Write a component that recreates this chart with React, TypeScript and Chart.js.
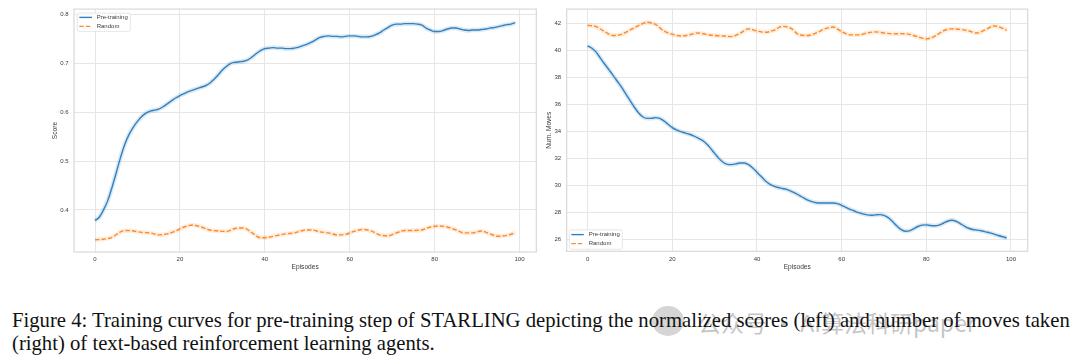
import React, { useEffect, useRef } from "react";
import { Chart, registerables } from "chart.js";

Chart.register(...registerables);

// ---------- DATA ----------
const SERIES_LABELS = ["Pre-training", "Random"];
const X_TICKS = [0, 20, 40, 60, 80, 100];
const SCORE_TICKS = [0.4, 0.5, 0.6, 0.7, 0.8];
const MOVES_TICKS = [26, 28, 30, 32, 34, 36, 38, 40, 42];

const EPISODES_ALL = [
  0, 1, 2, 3, 4, 5, 6, 7, 8, 9, 10, 11, 12, 13, 14, 15, 16, 17, 18, 19,
  20, 21, 22, 23, 24, 25, 26, 27, 28, 29, 30, 31, 32, 33, 34, 35, 36, 37, 38, 39,
  40, 41, 42, 43, 44, 45, 46, 47, 48, 49, 50, 51, 52, 53, 54, 55, 56, 57, 58, 59,
  60, 61, 62, 63, 64, 65, 66, 67, 68, 69, 70, 71, 72, 73, 74, 75, 76, 77, 78, 79,
  80, 81, 82, 83, 84, 85, 86, 87, 88, 89, 90, 91, 92, 93, 94, 95, 96, 97, 98, 99,
];

const SCORE_PRETRAIN = [
  0.378, 0.385, 0.4, 0.419, 0.446, 0.476, 0.507, 0.534, 0.554, 0.569,
  0.581, 0.591, 0.598, 0.602, 0.604, 0.606, 0.611, 0.617, 0.623, 0.629,
  0.634, 0.638, 0.642, 0.645, 0.648, 0.651, 0.654, 0.659, 0.667, 0.676,
  0.686, 0.694, 0.7, 0.702, 0.703, 0.704, 0.707, 0.713, 0.72, 0.726,
  0.73, 0.731, 0.732, 0.731, 0.731, 0.73, 0.73, 0.731, 0.733, 0.736,
  0.739, 0.743, 0.748, 0.753, 0.755, 0.756, 0.755, 0.755, 0.754, 0.755,
  0.756, 0.756, 0.755, 0.754, 0.754, 0.755, 0.758, 0.762, 0.768, 0.773,
  0.778, 0.78, 0.78, 0.781, 0.781, 0.781, 0.78, 0.778, 0.772, 0.768,
  0.765, 0.765, 0.767, 0.77, 0.772, 0.772, 0.77, 0.768, 0.767, 0.768,
  0.768, 0.769, 0.77, 0.772, 0.773, 0.775, 0.777, 0.779, 0.78, 0.783,
];

const SCORE_RANDOM_EPISODES = [
  0, 2, 4, 6, 7, 9, 11, 13, 15, 17, 19, 21, 23, 25, 27, 29, 31, 33, 35, 37,
  39, 41, 43, 45, 47, 49, 51, 53, 55, 57, 59, 61, 63, 65, 67, 69, 71, 73, 75, 77,
  79, 81, 83, 85, 87, 89, 91, 93, 95, 97, 99,
];
const SCORE_RANDOM = [
  0.339, 0.34, 0.344, 0.355, 0.358, 0.357, 0.354, 0.353, 0.349, 0.351,
  0.357, 0.365, 0.369, 0.365, 0.359, 0.357, 0.356, 0.362, 0.363, 0.353,
  0.343, 0.344, 0.348, 0.351, 0.353, 0.358, 0.359, 0.355, 0.353, 0.349,
  0.35, 0.356, 0.36, 0.357, 0.349, 0.347, 0.353, 0.358, 0.358, 0.359,
  0.365, 0.367, 0.365, 0.359, 0.353, 0.353, 0.357, 0.351, 0.346, 0.348,
  0.353,
];

const MOVES_PRETRAIN = [
  40.36, 40.18, 39.89, 39.45, 39.01, 38.59, 38.17, 37.73, 37.29, 36.8,
  36.31, 35.82, 35.4, 35.1, 34.98, 34.98, 35.03, 34.98, 34.79, 34.54,
  34.29, 34.12, 34.0, 33.9, 33.8, 33.68, 33.53, 33.36, 33.12, 32.77,
  32.38, 32.01, 31.72, 31.57, 31.55, 31.6, 31.67, 31.67, 31.55, 31.3,
  30.98, 30.66, 30.34, 30.1, 29.95, 29.85, 29.78, 29.71, 29.58, 29.44,
  29.26, 29.09, 28.92, 28.8, 28.72, 28.7, 28.7, 28.7, 28.7, 28.65,
  28.53, 28.38, 28.23, 28.11, 27.99, 27.89, 27.82, 27.79, 27.82, 27.84,
  27.79, 27.62, 27.33, 27.01, 26.74, 26.61, 26.64, 26.79, 26.96, 27.06,
  27.08, 27.03, 27.01, 27.06, 27.2, 27.35, 27.42, 27.35, 27.18, 26.99,
  26.83, 26.74, 26.69, 26.64, 26.56, 26.49, 26.39, 26.29, 26.2, 26.12,
];

const MOVES_RANDOM_EPISODES = [
  0, 2, 4, 6, 8, 10, 12, 14, 16, 18, 20, 22, 24, 26, 28, 30, 32, 34, 36, 38,
  40, 42, 44, 46, 48, 50, 52, 54, 56, 58, 60, 62, 64, 66, 68, 70, 72, 74, 76, 78,
  80, 82, 84, 86, 88, 90, 92, 94, 96, 98, 99,
];
const MOVES_RANDOM = [
  41.88, 41.78, 41.41, 41.12, 41.21, 41.53, 41.85, 42.1, 41.95, 41.46,
  41.21, 41.09, 41.17, 41.31, 41.21, 41.12, 41.09, 41.04, 41.29, 41.61,
  41.46, 41.36, 41.51, 41.8, 41.66, 41.17, 41.12, 41.31, 41.61, 41.75,
  41.41, 41.17, 41.17, 41.31, 41.39, 41.31, 41.24, 41.26, 41.21, 41.02,
  40.87, 41.07, 41.46, 41.61, 41.58, 41.46, 41.31, 41.56, 41.83, 41.66,
  41.51,
];

// ---------- STYLE ----------
const BLUE = "#3381c0";
const ORANGE = "#fb8a2c";
const BLUE_HALO = "rgba(31,119,180,0.16)";
const ORANGE_HALO = "rgba(255,127,14,0.14)";
const GRID = "#e6e6e6";
const FRAME = "#d9d9d9";
const TEXT = "#3a3a3a";
const SANS = "'Liberation Sans', Arial, sans-serif";

const pts = (xs: number[], ys: number[]) => ys.map((y, i) => ({ x: xs[i], y }));

const framePlugin = {
  id: "frameBox",
  beforeDatasetsDraw(chart: any) {
    const { ctx, chartArea: a } = chart;
    ctx.save();
    ctx.strokeStyle = FRAME;
    ctx.lineWidth = 1.2;
    ctx.strokeRect(a.left, a.top, a.right - a.left, a.bottom - a.top);
    ctx.restore();
  },
};

const legendPlugin = {
  id: "innerLegend",
  afterDatasetsDraw(chart: any, _args: any, o: any) {
    const { ctx, chartArea: a } = chart;
    const items = chart.data.datasets.filter((d: any) => !d.halo);
    const x0 = a.left + o.dx;
    const y0 = o.corner === "tl" ? a.top + o.dy : a.bottom - o.dy - o.height;
    ctx.save();
    ctx.beginPath();
    const r = 2;
    const w = o.width;
    const h = o.height;
    ctx.moveTo(x0 + r, y0);
    ctx.lineTo(x0 + w - r, y0);
    ctx.arcTo(x0 + w, y0, x0 + w, y0 + r, r);
    ctx.lineTo(x0 + w, y0 + h - r);
    ctx.arcTo(x0 + w, y0 + h, x0 + w - r, y0 + h, r);
    ctx.lineTo(x0 + r, y0 + h);
    ctx.arcTo(x0, y0 + h, x0, y0 + h - r, r);
    ctx.lineTo(x0, y0 + r);
    ctx.arcTo(x0, y0, x0 + r, y0, r);
    ctx.closePath();
    ctx.fillStyle = "rgba(255,255,255,0.85)";
    ctx.fill();
    ctx.strokeStyle = "#e0e0e0";
    ctx.lineWidth = 0.8;
    ctx.stroke();
    ctx.font = `6px ${SANS}`;
    ctx.textBaseline = "middle";
    ctx.textAlign = "left";
    items.forEach((d: any, i: number) => {
      const y = y0 + o.rowTop + i * o.rowGap;
      ctx.beginPath();
      ctx.strokeStyle = d.borderColor;
      ctx.lineWidth = d.borderWidth;
      ctx.setLineDash(d.borderDash || []);
      ctx.moveTo(x0 + o.lineStart, y);
      ctx.lineTo(x0 + o.lineEnd, y);
      ctx.stroke();
      ctx.setLineDash([]);
      ctx.fillStyle = TEXT;
      ctx.fillText(d.label, x0 + o.textX, y);
    });
    ctx.restore();
  },
};

type PanelProps = {
  left: number;
  pre: { x: number; y: number }[];
  rnd: { x: number; y: number }[];
  yTicks: number[];
  yMin: number;
  yMax: number;
  yTitle: string;
  yFmt: (v: number) => string;
  axisWidth: number;
  titlePad: number;
  padRight: number;
  padTop: number;
  xAxisHeight: number;
  legend: any;
};

function Panel(p: PanelProps) {
  const ref = useRef<HTMLCanvasElement | null>(null);
  useEffect(() => {
    if (!ref.current) return;
    const line = (label: string, data: any, color: string, dash: number[] | undefined, order: number) => ({
      label,
      data,
      borderColor: color,
      backgroundColor: color,
      borderWidth: 1.4,
      borderDash: dash,
      pointRadius: 0,
      tension: 0.4,
      cubicInterpolationMode: "monotone",
      fill: false,
      order,
    });
    const halo = (data: any, color: string) => ({
      label: "",
      halo: true,
      data,
      borderColor: color,
      borderWidth: 4.5,
      pointRadius: 0,
      tension: 0.4,
      cubicInterpolationMode: "monotone",
      fill: false,
      order: 5,
    });
    const chart = new Chart(ref.current, {
      type: "line",
      data: {
        datasets: [
          line(SERIES_LABELS[0], p.pre, BLUE, undefined, 1),
          line(SERIES_LABELS[1], p.rnd, ORANGE, [4.5, 2], 2),
          halo(p.pre, BLUE_HALO),
          halo(p.rnd, ORANGE_HALO),
        ] as any,
      },
      options: {
        animation: false,
        responsive: false,
        maintainAspectRatio: false,
        layout: { padding: { left: 0, right: p.padRight, top: p.padTop, bottom: 0 } },
        plugins: {
          legend: { display: false },
          tooltip: { enabled: false },
          innerLegend: p.legend,
        } as any,
        scales: {
          x: {
            type: "linear",
            min: -4.95,
            max: 103.95,
            afterBuildTicks: (s: any) => {
              s.ticks = X_TICKS.map((v) => ({ value: v }));
            },
            afterFit: (s: any) => {
              s.height = p.xAxisHeight;
            },
            grid: { color: GRID, lineWidth: 1, drawTicks: false },
            border: { display: false },
            ticks: {
              autoSkip: false,
              maxRotation: 0,
              padding: 4,
              color: TEXT,
              font: { family: SANS, size: 6 },
              callback: (v: any) => String(v),
            },
            title: {
              display: true,
              text: "Episodes",
              color: TEXT,
              font: { family: SANS, size: 6.6 },
              padding: { top: 0, bottom: 8.4 },
            },
          },
          y: {
            type: "linear",
            min: p.yMin,
            max: p.yMax,
            afterBuildTicks: (s: any) => {
              s.ticks = p.yTicks.map((v) => ({ value: v }));
            },
            afterFit: (s: any) => {
              s.width = p.axisWidth;
            },
            grid: { color: GRID, lineWidth: 1, drawTicks: false },
            border: { display: false },
            ticks: {
              autoSkip: false,
              padding: 5.5,
              color: TEXT,
              font: { family: SANS, size: 6 },
              callback: (v: any) => p.yFmt(Number(v)),
            },
            title: {
              display: true,
              text: p.yTitle,
              color: TEXT,
              font: { family: SANS, size: 6.6 },
              padding: { top: p.titlePad, bottom: 0 },
            },
          },
        },
      },
      plugins: [framePlugin, legendPlugin],
    });
    return () => chart.destroy();
  }, []);
  return (
    <canvas
      ref={ref}
      width={540}
      height={280}
      style={{ position: "absolute", left: p.left, top: 0, width: 540, height: 280 }}
    />
  );
}

export default function App() {
  return (
    <div
      style={{
        position: "absolute",
        left: 0,
        top: 0,
        width: 1080,
        height: 363,
        background: "#ffffff",
        overflow: "hidden",
      }}
    >
      <Panel
        left={0}
        pre={pts(EPISODES_ALL, SCORE_PRETRAIN)}
        rnd={pts(SCORE_RANDOM_EPISODES, SCORE_RANDOM)}
        yTicks={SCORE_TICKS}
        yMin={0.3139}
        yMax={0.8108}
        yTitle="Score"
        yFmt={(v) => v.toFixed(1)}
        axisWidth={74}
        titlePad={51.4}
        padRight={3.7}
        padTop={7}
        xAxisHeight={28}
        legend={{ corner: "tl", dx: 3.3, dy: 4, width: 53, height: 18.5, rowTop: 4.3, rowGap: 9, lineStart: 2, lineEnd: 14.7, textX: 19.4 }}
      />
      <Panel
        left={540}
        pre={pts(EPISODES_ALL, MOVES_PRETRAIN)}
        rnd={pts(MOVES_RANDOM_EPISODES, MOVES_RANDOM)}
        yTicks={MOVES_TICKS}
        yMin={25.12}
        yMax={43.08}
        yTitle="Num. Moves"
        yFmt={(v) => String(Math.round(v))}
        axisWidth={26.7}
        titlePad={4.8}
        padRight={52.3}
        padTop={7.3}
        xAxisHeight={28.7}
        legend={{ corner: "bl", dx: 2.6, dy: 2, width: 53, height: 19.5, rowTop: 4.8, rowGap: 9, lineStart: 2, lineEnd: 14.5, textX: 19.4 }}
      />
      <div
        style={{
          position: "absolute",
          left: 652,
          top: 306,
          width: 32,
          height: 30,
          borderRadius: "50%",
          background: "rgba(150,150,150,0.4)",
        }}
      />
      <div
        style={{
          position: "absolute",
          left: 698,
          top: 307,
          fontFamily: "'Noto Sans CJK SC', sans-serif",
          fontSize: 23,
          lineHeight: "30px",
          color: "rgba(140,140,140,0.5)",
          whiteSpace: "nowrap",
        }}
      >
        公众号 · AI算法科研paper
      </div>
      <div
        style={{
          position: "absolute",
          left: 12,
          top: 309,
          fontFamily: "'Liberation Serif', 'Times New Roman', serif",
          fontSize: 20.7,
          lineHeight: "23px",
          color: "#111111",
          whiteSpace: "nowrap",
        }}
      >
        Figure 4: Training curves for pre-training step of STARLING depicting the normalized scores (left) and number of moves taken
        <br />
        (right) of text-based reinforcement learning agents.
      </div>
    </div>
  );
}
